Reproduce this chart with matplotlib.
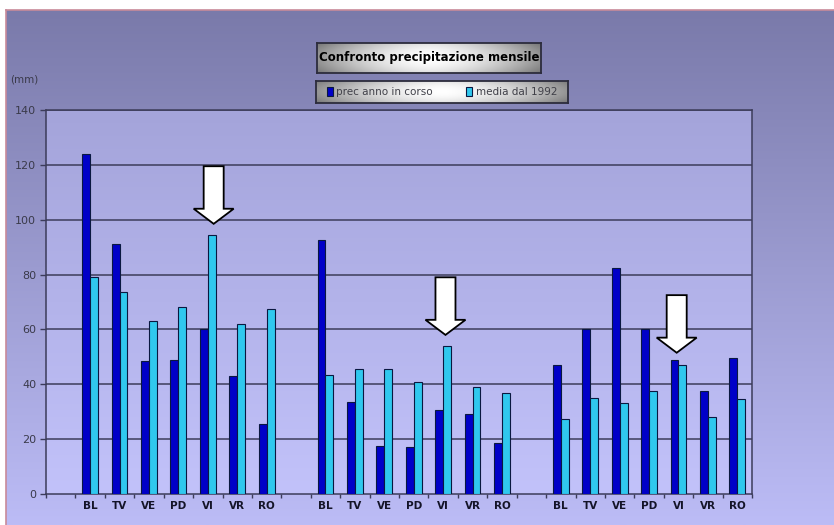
import numpy as np
import matplotlib
matplotlib.use("Agg")
import matplotlib.pyplot as plt
from matplotlib.patches import Polygon
from matplotlib.colors import to_rgb

# ---- data ----
stations = ["BL", "TV", "VE", "PD", "VI", "VR", "RO"]
prec_anno = [124, 91, 48.5, 49, 60, 43, 25.5,
             92.5, 33.5, 17.5, 17, 30.5, 29, 18.5,
             47, 60, 82.5, 60, 49, 37.5, 49.5]
media_1992 = [79, 73.5, 63, 68, 94.5, 62, 67.5,
              43.5, 45.5, 45.5, 41, 54, 39, 37,
              27.5, 35, 33, 37.5, 47, 28, 34.5]
series_labels = ["prec anno in corso", "media dal 1992"]
chart_title = "Confronto precipitazione mensile"
unit_label = "(mm)"
y_ticks = [0, 20, 40, 60, 80, 100, 120, 140]
# arrows pointing at the VI station of each block
arrow_station = "VI"
arrow_tips = [98.5, 58.0, 51.5]

# ---- style ----
W, H = 834, 525
DARK = "#0000c8"
CYAN = "#30c8ee"
EDGE = "#0a1840"
GRID = "#3c3c5a"
n_groups = 3
slots_per_group = len(stations) + 1
n_slots = n_groups * slots_per_group
bar_w = 0.27


def fx(px):
    return px / W


def fy(py):
    return 1 - py / H


def vgrad(top, bottom, n=256):
    t = np.linspace(0, 1, n)[:, None]
    a, b = np.array(to_rgb(top)), np.array(to_rgb(bottom))
    return (a[None, :] * (1 - t[..., None]) + b[None, :] * t[..., None])


def metal(nx=200, ny=40):
    x = np.linspace(-1, 1, nx)[None, :]
    y = np.linspace(-1, 1, ny)[:, None]
    v = 1 - 0.42 * np.abs(x) ** 1.6 - 0.12 * np.abs(y) ** 2
    return np.dstack([v, v, v]).clip(0, 1)


fig = plt.figure(figsize=(W / 100, H / 100), dpi=100)
fig.patch.set_facecolor("white")

# outer chart frame with vertical gradient
bg = fig.add_axes([fx(6), 0, 1 - fx(6), fy(10)], zorder=-10)
bg.imshow(vgrad("#7a7aaa", "#bcbcf6"), aspect="auto", extent=[0, 1, 0, 1])
bg.set_xticks([]); bg.set_yticks([])
for s in ["right", "bottom"]:
    bg.spines[s].set_visible(False)
for s in ["left", "top"]:
    bg.spines[s].set_color("#c88a9a")
    bg.spines[s].set_linewidth(1.2)

# plot area
ax = fig.add_axes([fx(46), fy(494), fx(752) - fx(46), fy(110) - fy(494)], zorder=0)
ax.imshow(vgrad("#a4a4da", "#c2c2fa"), aspect="auto", extent=[0, 1, 0, 1],
          transform=ax.transAxes, zorder=0)

positions = []
labels = []
for g in range(n_groups):
    for s, name in enumerate(stations):
        positions.append(g * slots_per_group + 1 + s)
        labels.append(name)
positions = np.array(positions, dtype=float)

for v in y_ticks[1:]:
    ax.axhline(v, color=GRID, lw=1.1, zorder=1)

b1 = ax.bar(positions - bar_w / 2, prec_anno, width=bar_w, color=DARK,
            edgecolor=EDGE, linewidth=0.8, zorder=3, label=series_labels[0])
b2 = ax.bar(positions + bar_w / 2, media_1992, width=bar_w, color=CYAN,
            edgecolor=EDGE, linewidth=0.8, zorder=3, label=series_labels[1])

# block arrows
arrow_offsets = [0.2, 0.08, -0.06]
shaft, head, head_len, length = 0.34, 0.68, 5.5, 21
vi = stations.index(arrow_station)
for g, tip in enumerate(arrow_tips):
    x = g * slots_per_group + 1 + vi + arrow_offsets[g]
    top, hs = tip + length, tip + head_len
    pts = [(x - shaft, top), (x + shaft, top), (x + shaft, hs), (x + head, hs),
           (x, tip), (x - head, hs), (x - shaft, hs)]
    ax.add_patch(Polygon(pts, closed=True, facecolor="white", edgecolor="black",
                         lw=1.3, zorder=6))

ax.set_xlim(-0.5, n_slots - 0.5)
ax.set_ylim(0, 140)
ax.set_yticks(y_ticks)
ax.set_yticklabels([str(v) for v in y_ticks], fontsize=8, color="#3a3a4a",
                   family="DejaVu Sans")
ax.set_xticks(np.arange(-0.5, n_slots, 1.0))
ax.set_xticklabels([])
ax.set_xticks(positions, minor=True)
ax.set_xticklabels(labels, minor=True, fontsize=7.5, fontweight="bold",
                   color="#141428")
ax.tick_params(axis="x", which="major", direction="out", length=3,
               color=GRID, width=1)
ax.tick_params(axis="x", which="minor", length=0, pad=5)
ax.tick_params(axis="y", direction="out", length=4, color=GRID, width=1, pad=3)
for s in ax.spines.values():
    s.set_color(GRID)
    s.set_linewidth(1.1)

fig.text(fx(10), fy(80), unit_label, fontsize=7.5, color="#3a3a4a",
         ha="left", va="center")


def metal_box(x0, y0, x1, y1):
    bx = fig.add_axes([fx(x0), fy(y1), fx(x1) - fx(x0), fy(y0) - fy(y1)], zorder=1)
    bx.imshow(metal(), aspect="auto", extent=[0, 1, 0, 1])
    bx.set_xticks([]); bx.set_yticks([])
    for s in bx.spines.values():
        s.set_color("#2c2c3c")
        s.set_linewidth(1.3)
    return bx


tb = metal_box(317, 43, 541, 73)
tb.text(0.5, 0.5, chart_title, transform=tb.transAxes, ha="center",
        va="center", fontsize=8.5, fontweight="bold", color="black")

lb = metal_box(316, 81, 568, 103)
leg = fig.legend([b1, b2], series_labels, loc="center",
                 bbox_to_anchor=(fx(442), fy(92)), ncol=2, frameon=False,
                 fontsize=7.5, handlelength=0.55, handleheight=0.9,
                 handletextpad=0.35, columnspacing=3.2, borderpad=0)
for t in leg.get_texts():
    t.set_color("#404048")

fig.savefig("out.png", dpi=100)
